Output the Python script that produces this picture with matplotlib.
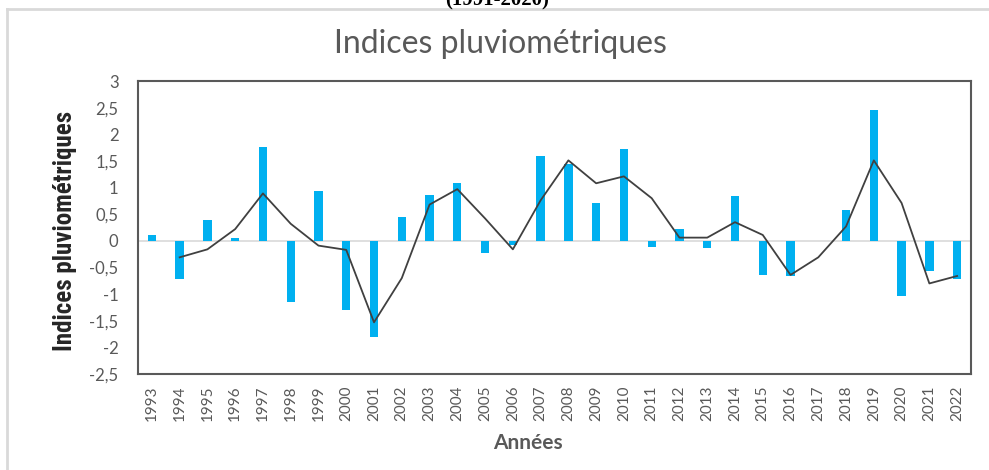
import matplotlib
matplotlib.use("Agg")
import matplotlib.pyplot as plt
from matplotlib.lines import Line2D

years = [str(y) for y in range(1993, 2023)]
indices = [0.10, -0.71, 0.39, 0.05, 1.77, -1.15, 0.94, -1.29, -1.81, 0.45,
           0.86, 1.08, -0.23, -0.07, 1.59, 1.44, 0.71, 1.72, -0.11, 0.22,
           -0.13, 0.85, -0.64, -0.66, 0.0, 0.57, 2.46, -1.04, -0.57, -0.71]
# tendance (moyenne mobile sur 2 periodes), debute en 1994
trend_years = years[1:]
trend = [-0.31, -0.16, 0.22, 0.89, 0.32, -0.09, -0.17, -1.53, -0.70,
         0.68, 0.97, 0.42, -0.16, 0.76, 1.51, 1.08, 1.21, 0.80, 0.06,
         0.06, 0.35, 0.11, -0.64, -0.31, 0.27, 1.51, 0.71, -0.80, -0.66]
yticks = [3, 2.5, 2, 1.5, 1, 0.5, 0, -0.5, -1, -1.5, -2, -2.5]

gray = "#595959"
sans = ["Lato", "DejaVu Sans"]
fig = plt.figure(figsize=(9.89, 4.70), dpi=100)
ax = fig.add_axes([138/989, 1-374/470, (971-138)/989, (374-81)/470])

ax.bar(years, indices, width=0.3, color="#00B0F0", zorder=3)
ax.plot(trend_years, trend, color="#404040", linewidth=1.3, zorder=4)
ax.axhline(0, color="#D9D9D9", linewidth=1.2, zorder=2)

ax.set_xlim(-0.5, len(years) - 0.5)
ax.set_ylim(-2.5, 3)
ax.set_yticks(yticks)
ax.set_yticklabels([("%g" % v).replace(".", ",") for v in yticks],
                   fontsize=12, color=gray, family=sans)
ax.tick_params(axis="x", labelrotation=90, labelsize=11, colors=gray, length=0, pad=8)
ax.tick_params(axis="y", length=0, pad=14)
for lab in ax.get_xticklabels():
    lab.set_family(sans)

for s in ax.spines.values():
    s.set_color(gray)
    s.set_linewidth(1.5)

fig.text(500/989, 1-44/470, "Indices pluviométriques", fontsize=23, color=gray,
         family=sans, ha="center", va="center")
fig.text(528/989, 1-443/470, "Années", fontsize=15, color=gray, fontweight="bold",
         family=sans, ha="center", va="center")
fig.text(65/989, 1-231/470, "Indices pluviométriques", rotation=90,
         fontsize=18, fontweight="bold", fontstretch="condensed", color="#262626",
         family=["Roboto Condensed", "Liberation Sans Narrow", "Roboto", "DejaVu Sans"],
         ha="center", va="center")

# haut du sous-titre coupe et cadre exterieur
fig.text(497/989, 1 - 5/470, "(1991-2020)", fontsize=15, fontweight="bold",
         family=["Liberation Serif", "DejaVu Serif"], ha="center", va="baseline")
fig.add_artist(Line2D([7/989, 7/989], [0, 1-9/470], color="#D9D9D9", linewidth=2))
fig.add_artist(Line2D([7/989, 1], [1-9/470, 1-9/470], color="#D9D9D9", linewidth=2))

fig.savefig("out.png", dpi=100)
